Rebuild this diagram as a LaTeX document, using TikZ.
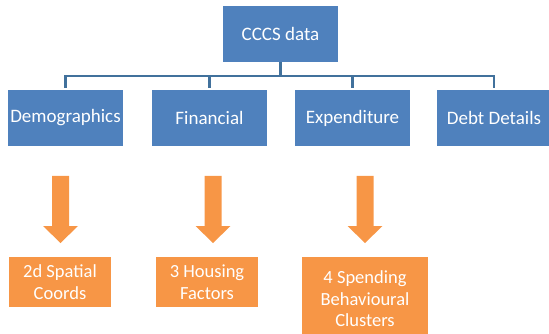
\documentclass[tikz,border=0pt]{standalone}
\usepackage{fontspec}
\setmainfont{Carlito}
\definecolor{boxblue}{RGB}{79,129,189}
\definecolor{lineblue}{RGB}{65,113,156}
\definecolor{boxorange}{RGB}{247,150,70}

\begin{document}
\begin{tikzpicture}[x=1pt,y=-1pt,
  bluebox/.style={fill=boxblue, text=white, minimum width=115pt, minimum height=56pt, inner sep=0pt, font=\fontsize{19}{21.5}\selectfont},
  orangebox/.style={fill=boxorange, text=white, minimum width=102pt, minimum height=50pt, inner sep=0pt, align=center, font=\fontsize{18.5}{21.5}\selectfont},
  treeline/.style={draw=lineblue, line width=2.5pt}]
  \useasboundingbox (0,0) rectangle (549,334);

  \node[bluebox] (data) at (280.5,34) {CCCS data};
  \node[bluebox] (demo) at (65.5,118) {Demographics};
  \node[bluebox] (fin) at (209.5,118) {Financial};
  \node[bluebox] (exp) at (352.5,118) {Expenditure};
  \node[bluebox] (debt) at (494,118) {Debt Details};

  % tree
  \draw[treeline] (data.south) -- ++(0,14) coordinate (split);
  \draw[treeline] ([yshift=2pt]demo.north) |- (split) -| ([yshift=2pt]debt.north);
  \foreach \b in {fin,exp}
    \draw[treeline] ([yshift=2pt]\b.north) -- (\b.north |- split);

  % block arrows
  \foreach \x in {60.5,213,365}
    \fill[boxorange] ({\x-8.5},176) -- ({\x+8.5},176) -- ({\x+8.5},226) -- ({\x+17.5},226)
      -- (\x,243) -- ({\x-17.5},226) -- ({\x-8.5},226) -- cycle;

  \node[orangebox] (spatial) at (60,282) {2d Spatial\\Coords};
  \node[orangebox] (housing) at (207,282) {3 Housing\\Factors};
  \node[orangebox, minimum width=126pt, minimum height=84pt] (spending) at (365,299) {4 Spending\\Behavioural\\Clusters};
\end{tikzpicture}
\end{document}
